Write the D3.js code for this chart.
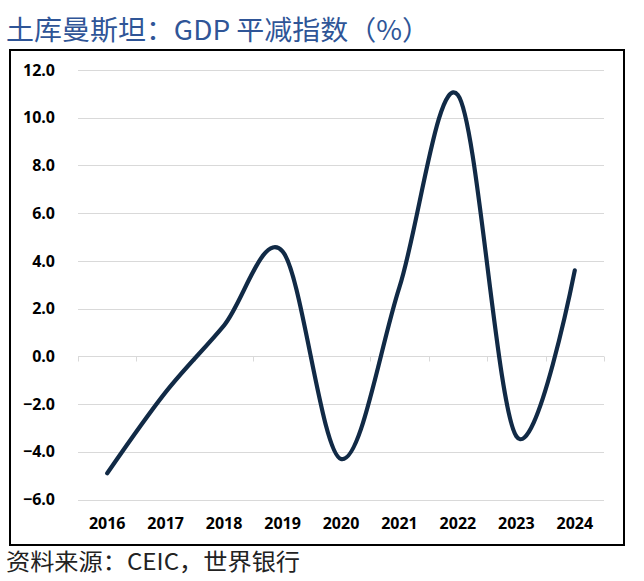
<!DOCTYPE html>
<html>
<head>
<meta charset="utf-8">
<script src="https://cdn.jsdelivr.net/npm/d3@7"></script>
<style>
  html, body { margin: 0; padding: 0; background: #fff; }
  svg { display: block; }
</style>
</head>
<body>
<svg id="chart" width="644" height="581"></svg>
<script>
const title = "土库曼斯坦：GDP 平减指数（%）";
const source = "资料来源：CEIC，世界银行";
const years = ["2016", "2017", "2018", "2019", "2020", "2021", "2022", "2023", "2024"];
const deflator = [-4.9, -1.5, 1.3, 4.4, -4.3, 2.9, 10.95, -3.35, 3.6];
const yTicks = [-6, -4, -2, 0, 2, 4, 6, 8, 10, 12];

const svg = d3.select("#chart");
const plot = { left: 78, right: 604, top: 70, bottom: 499.5 };

const x = d3.scaleBand().domain(years).range([plot.left, plot.right]);
const y = d3.scaleLinear().domain([-6, 12]).range([plot.bottom, plot.top]);

// Title
svg.append("text")
  .attr("x", 6).attr("y", 40)
  .attr("textLength", 424).attr("lengthAdjust", "spacingAndGlyphs")
  .attr("font-family", "'Noto Sans CJK SC', sans-serif")
  .attr("font-size", 27)
  .attr("fill", "#2f5597")
  .text(title);

// Frame
svg.append("rect")
  .attr("x", 10).attr("y", 50).attr("width", 614).attr("height", 495)
  .attr("fill", "none").attr("stroke", "#000").attr("stroke-width", 2);

// Gridlines
svg.append("g").selectAll("line").data(yTicks.filter(d => d !== 0)).join("line")
  .attr("x1", plot.left).attr("x2", plot.right)
  .attr("y1", d => Math.round(y(d)) + 0.5).attr("y2", d => Math.round(y(d)) + 0.5)
  .attr("stroke", "#d9d9d9").attr("stroke-width", 1);

// Y axis labels
const yAxis = d3.axisLeft(y).tickValues(yTicks).tickFormat(d3.format(".1f")).tickSize(0).tickPadding(0);
const gy = svg.append("g").attr("transform", "translate(55,0)").call(yAxis);
gy.select(".domain").remove();
gy.selectAll("text")
  .attr("font-family", "'Open Sans', sans-serif")
  .attr("font-weight", 700)
  .attr("font-size", 16)
  .attr("fill", "#000");

// Zero axis with category ticks
const y0 = Math.round(y(0)) + 0.5;
const xAxis = d3.axisBottom(x).tickSize(0).tickFormat("");
const gx0 = svg.append("g").attr("transform", `translate(0,${y0})`).call(xAxis);
gx0.select(".domain").attr("stroke", "#d9d9d9").attr("d", `M${plot.left},0H${plot.right}`);
gx0.selectAll(".tick").remove();
const bounds = years.map(d => x(d)).concat([x(years[years.length - 1]) + x.bandwidth()]);
gx0.selectAll("line.cat").data(bounds).join("line").attr("class", "cat")
  .attr("x1", d => Math.round(d) + 0.5).attr("x2", d => Math.round(d) + 0.5)
  .attr("y1", 0).attr("y2", 5)
  .attr("stroke", "#d9d9d9");

// X labels
const xLabels = d3.axisBottom(x).tickSize(0).tickPadding(0);
const gx = svg.append("g").attr("transform", "translate(0,518)").call(xLabels);
gx.select(".domain").remove();
gx.selectAll("text")
  .attr("font-family", "'Open Sans', sans-serif")
  .attr("font-weight", 700)
  .attr("font-size", 16)
  .attr("fill", "#000");

// Line
const line = d3.line()
  .x((d, i) => x(years[i]) + x.bandwidth() / 2)
  .y(d => y(d))
  .curve(d3.curveCardinal.tension(0));
svg.append("path")
  .datum(deflator)
  .attr("d", line)
  .attr("fill", "none")
  .attr("stroke", "#112a46")
  .attr("stroke-width", 4.2)
  .attr("stroke-linecap", "round")
  .attr("stroke-linejoin", "round");

// Source
svg.append("text")
  .attr("x", 6).attr("y", 570)
  .attr("textLength", 294).attr("lengthAdjust", "spacingAndGlyphs")
  .attr("font-family", "'Noto Sans CJK SC', sans-serif")
  .attr("font-size", 23)
  .attr("fill", "#222")
  .text(source);
</script>
</body>
</html>
